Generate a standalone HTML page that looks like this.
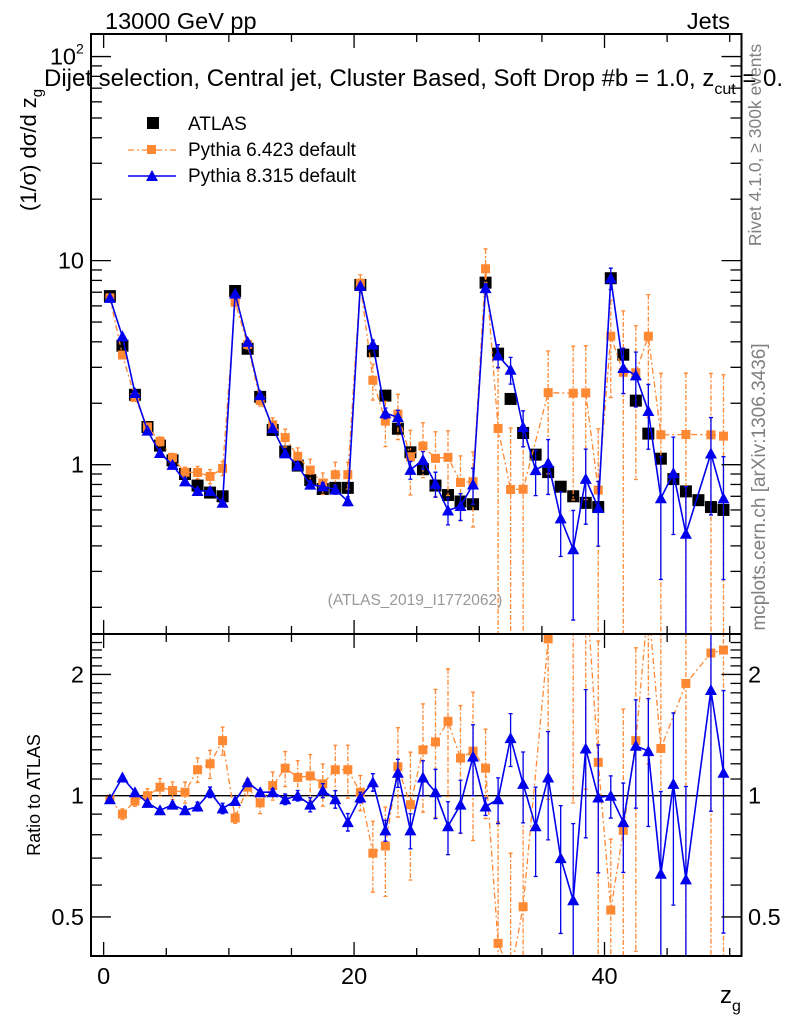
<!DOCTYPE html>
<html><head><meta charset="utf-8"><style>
html,body{margin:0;padding:0;background:#fff;overflow:hidden;width:786px;height:1024px;}
svg{display:block;font-family:"Liberation Sans",sans-serif;}
</style></head><body>
<svg id="chart" width="786" height="1024" viewBox="0 0 786 1024" xmlns="http://www.w3.org/2000/svg">
<defs>
<clipPath id="clipMain"><rect x="91" y="34" width="650.5" height="600"/></clipPath>
<clipPath id="clipRatio"><rect x="91" y="634" width="650.5" height="322"/></clipPath>
</defs>
<g id="marks"></g>
<g id="axes"></g>
<text x="105" y="29" font-size="23.5">13000 GeV pp</text>
<text x="730" y="29" font-size="23.5" text-anchor="end">Jets</text>
<text x="44" y="86" font-size="24">Dijet selection, Central jet, Cluster Based, Soft Drop #b = 1.0, z<tspan font-size="16" dy="8">cut</tspan><tspan dy="-8"> = 0.</tspan></text>
<text transform="translate(36,150) rotate(-90)" font-size="22" text-anchor="middle">(1/σ) dσ/d z<tspan font-size="15" dy="6">g</tspan></text>
<text transform="translate(40,795) rotate(-90)" font-size="18" text-anchor="middle">Ratio to ATLAS</text>
<text x="720" y="1003" font-size="24">z<tspan font-size="16" dy="8">g</tspan></text>
<text transform="translate(761,145) rotate(-90)" font-size="17.5" fill="#808080" text-anchor="middle">Rivet 4.1.0, ≥ 300k events</text>
<text transform="translate(765,487) rotate(-90)" font-size="19" fill="#808080" text-anchor="middle">mcplots.cern.ch [arXiv:1306.3436]</text>
<text x="415" y="605" font-size="15.5" fill="#999" text-anchor="middle">(ATLAS_2019_I1772062)</text>
<g>
<rect x="147" y="117" width="12" height="12" fill="#000"/>
<text x="188" y="130" font-size="19">ATLAS</text>
<line x1="128" y1="150" x2="176" y2="150" stroke="#ff8833" stroke-width="1.3" stroke-dasharray="6,3,2,3"/>
<rect x="147" y="145" width="9" height="9" fill="#ff8833"/>
<text x="188" y="156" font-size="19">Pythia 6.423 default</text>
<line x1="128" y1="176" x2="176" y2="176" stroke="#0000ee" stroke-width="1.5"/>
<polygon points="152,170 158,181 146,181" fill="#0000ee"/>
<text x="188" y="182" font-size="19">Pythia 8.315 default</text>
</g>
</svg>
<script>
const bins = [0.5,1.5,2.5,3.5,4.5,5.5,6.5,7.5,8.5,9.5,10.5,11.5,12.5,13.5,14.5,15.5,16.5,17.5,18.5,19.5,20.5,21.5,22.5,23.5,24.5,25.5,26.5,27.5,28.5,29.5,30.5,31.5,32.5,33.5,34.5,35.5,36.5,37.5,38.5,39.5,40.5,41.5,42.5,43.5,44.5,45.5,46.5,47.5,48.5,49.5];
const atlas = [6.7,3.83,2.2,1.53,1.24,1.05,0.9,0.79,0.73,0.70,7.1,3.7,2.15,1.48,1.16,0.99,0.84,0.76,0.77,0.77,7.6,3.6,2.18,1.5,1.15,0.95,0.79,0.71,0.66,0.64,7.8,3.5,2.1,1.43,1.12,0.92,0.78,0.70,0.65,0.62,8.2,3.46,2.06,1.42,1.07,0.85,0.74,0.67,0.62,0.60];
const ratioPy8 = [0.98,1.11,1.02,0.96,0.92,0.95,0.92,0.94,1.02,0.93,0.97,1.08,1.02,1.02,0.98,1.0,0.95,1.03,0.98,0.86,0.99,1.08,0.82,1.14,0.82,1.11,1.02,0.84,0.95,1.25,0.94,0.98,1.39,1.07,0.84,1.11,0.70,0.55,1.31,0.99,1.0,0.86,1.33,1.29,0.64,1.07,0.62,null,1.83,1.14];
const errPy8 = [0.01,0.01,0.01,0.01,0.01,0.015,0.02,0.025,0.03,0.03,0.01,0.015,0.015,0.02,0.03,0.03,0.04,0.04,0.05,0.05,0.03,0.05,0.06,0.08,0.1,0.1,0.14,0.15,0.15,0.2,0.05,0.13,0.15,0.2,0.25,0.3,0.35,0.55,0.4,0.35,0.12,0.25,0.3,0.35,0.6,0.5,0.7,null,0.5,0.6];
const ratioPy6 = [0.98,0.9,0.97,1.0,1.05,1.03,1.02,1.16,1.2,1.37,0.88,1.05,0.96,1.06,1.17,1.11,1.12,1.07,1.16,1.16,1.02,0.72,0.75,1.18,0.95,1.30,1.36,1.53,1.24,1.29,1.17,0.43,0.36,0.53,null,2.45,null,3.2,3.46,1.21,0.52,0.82,1.37,3.0,1.31,null,1.9,null,2.26,2.3];
const errPy6 = [0.02,0.03,0.03,0.04,0.05,0.05,0.06,0.07,0.08,0.08,0.03,0.05,0.06,0.08,0.1,0.1,0.13,0.12,0.15,0.15,0.1,0.2,0.25,0.25,0.35,0.3,0.35,0.35,0.35,0.4,0.25,1.0,1.0,1.0,null,0.6,null,0.7,0.7,1.0,0.5,1.0,0.7,0.6,1.0,null,1.0,null,1.0,1.0];
const mainTickLabels = [["10",100,"2"],["10",10,""],["1",1,""]];
const ratioTickLabels = [["2",2],["1",1],["0.5",0.5]];
const xTickLabels = [0,20,40];

const NS="http://www.w3.org/2000/svg";
const L=91,R=741.5,MT=34,MB=634,RT=634,RB=956;
const X0=-1.01,X1=50.94;
const sx=v=>L+(v-X0)/(X1-X0)*(R-L);
const MY0=Math.log10(0.148),MY1=Math.log10(129);
const syM=v=>MB-(Math.log10(v)-MY0)/(MY1-MY0)*(MB-MT);
const RY0=Math.log10(0.4),RY1=Math.log10(2.52);
const syR=v=>RB-(Math.log10(v)-RY0)/(RY1-RY0)*(RB-RT);
const marks=document.getElementById('marks'),axes=document.getElementById('axes');
function mk(tag,attrs,parent){const e=document.createElementNS(NS,tag);for(const k in attrs)e.setAttribute(k,attrs[k]);parent.appendChild(e);return e;}
const py8=atlas.map((a,i)=>ratioPy8[i]==null?null:a*ratioPy8[i]);
const py6=atlas.map((a,i)=>ratioPy6[i]==null?null:a*ratioPy6[i]);
const OR="#ff8833",BL="#0000ee";
function drawSeries(g,vals,errs,sy,color,dash,marker,name){
  let d="";
  vals.forEach((v,i)=>{if(v==null)return;d+=(d?"L":"M")+sx(bins[i]).toFixed(1)+","+sy(v).toFixed(1);});
  const p=mk('path',{d:d,fill:'none',stroke:color,'stroke-width':dash?1.3:1.6},g);
  if(dash)p.setAttribute('stroke-dasharray','6,3,2,3');
  
  
  vals.forEach((v,i)=>{
    if(v==null)return;
    const x=sx(bins[i]),e=errs[i]||0;
    const lo=Math.max(v*(1-e),1e-3),hi=v*(1+e);
    const y1=sy(hi),y2=sy(lo);
    const eb=mk('path',{d:`M${x},${y1}L${x},${y2}M${x-2},${y1}L${x+2},${y1}M${x-2},${y2}L${x+2},${y2}`,stroke:color,'stroke-width':1.3,fill:'none'},g);
    if(dash)eb.setAttribute('stroke-dasharray','5,2,2,2');
    
    
    const y=sy(v);let m;
    if(marker==='sq'){m=mk('rect',{x:x-4.5,y:y-4.5,width:9,height:9,fill:color},g);}
    else{m=mk('polygon',{points:`${x},${y-6} ${x+6},${y+5} ${x-6},${y+5}`,fill:color},g);}
    
    
  });
}
const gm=mk('g',{'clip-path':'url(#clipMain)'},marks);


atlas.forEach((v,i)=>{
  const r=mk('rect',{x:sx(bins[i])-6,y:syM(v)-6,width:12,height:12,fill:'#000'},gm);
  
  
});
drawSeries(gm,py6,errPy6,syM,OR,true,'sq','pythia6');
drawSeries(gm,py8,errPy8,syM,BL,false,'tri','pythia8');
const gr=mk('g',{'clip-path':'url(#clipRatio)'},marks);


const one=mk('line',{x1:L,x2:R,y1:syR(1),y2:syR(1),stroke:'#000','stroke-width':1.3},gr);


drawSeries(gr,ratioPy6,errPy6,syR,OR,true,'sq','pythia6-ratio');
drawSeries(gr,ratioPy8,errPy8,syR,BL,false,'tri','pythia8-ratio');
[[MT,MB],[RT,RB]].forEach(([t,b])=>{
  const f=mk('rect',{x:L,y:t,width:R-L,height:b-t,fill:'none',stroke:'#000','stroke-width':2},axes);
  
  
});
function tk(x1,y1,x2,y2,w){mk('line',{x1,y1,x2,y2,stroke:'#000','stroke-width':w||1.3},axes);}
for(let v=0;v<=50;v+=5){
  const x=sx(v),big=(v%20===0),len=big?14:8;
  [[MT,1],[MB,-1],[RT,1],[RB,-1]].forEach(([y,dir])=>tk(x,y,x,y+dir*len));
}
xTickLabels.forEach(v=>{
  const t=mk('text',{x:sx(v),y:984,'font-size':23.5,'text-anchor':'middle'},axes);t.textContent=v;
  
  
});
for(let d=-1;d<=2;d++){for(let m=1;m<=9;m++){
  const v=m*Math.pow(10,d);if(v<0.148||v>129)continue;const y=syM(v),len=m===1?20:11;
  tk(L,y,L+len,y);tk(R,y,R-len,y);}}
mainTickLabels.forEach(([s,v,sup])=>{
  const t=mk('text',{x:sup?76:84,y:syM(v)+8,'font-size':23.5,'text-anchor':'end'},axes);t.textContent=s;
  
  
  if(sup){const s2=mk('text',{x:76,y:syM(v)-3,'font-size':14},axes);s2.textContent=sup;
    
    }
});
[0.4,0.5,0.6,0.7,0.8,0.9,1,2].forEach(v=>{const y=syR(v),len=(v===1||v===2||v===0.5)?20:11;tk(L,y,L+len,y);tk(R,y,R-len,y);});
for(let v=1.1;v<2.5;v+=0.1){if(Math.abs(v-2)<0.01)continue;const y=syR(v);tk(L,y,L+11,y);tk(R,y,R-11,y);}
ratioTickLabels.forEach(([s,v])=>{
  const t=mk('text',{x:84,y:syR(v)+8,'font-size':23.5,'text-anchor':'end'},axes);t.textContent=s;
  
  
  const t2=mk('text',{x:748,y:syR(v)+8,'font-size':23.5},axes);t2.textContent=s;
  
  
});
</script>
</body></html>
